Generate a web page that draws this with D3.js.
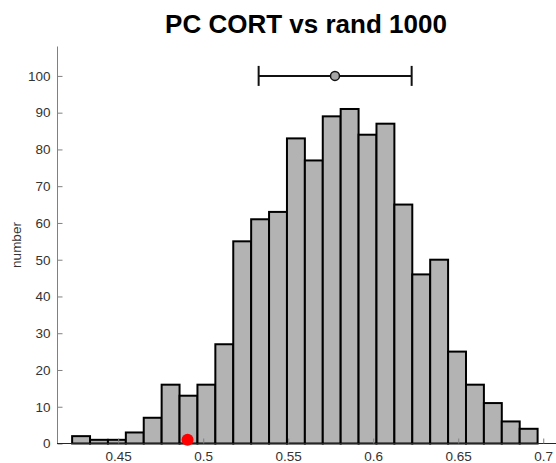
<!DOCTYPE html>
<html>
<head>
<meta charset="utf-8">
<script src="https://cdn.jsdelivr.net/npm/d3@7"></script>
<style>
  body { margin: 0; background: #fff; }
  svg { display: block; font-family: "Liberation Sans", Arial, Helvetica, sans-serif; }
</style>
</head>
<body>
<svg id="chart" width="556" height="463"></svg>
<script>
// histogram of 1000 random draws
const binStart = 0.4229;
const binWidth = 0.01053;
const counts = [2, 1, 1, 3, 7, 16, 13, 16, 27, 55, 61, 63, 83, 77, 89, 91, 84, 87, 65, 46, 50, 25, 16, 11, 6, 4];
const xTicks = [0.45, 0.5, 0.55, 0.6, 0.65, 0.7];
const yTicks = [0, 10, 20, 30, 40, 50, 60, 70, 80, 90, 100];
// mean +/- interval drawn at the top
const errLevel = 100;
const errMean = 0.5775;
const errLow = 0.5326;
const errHigh = 0.6226;
// observed value
const observed = { x: 0.4908, y: 1 };

const svg = d3.select("#chart");
const margin = { left: 57, right: 0, top: 46.5, bottom: 19.5 };
const width = 556, height = 463;

const x = d3.scaleLinear().domain([0.414, 0.7075]).range([margin.left, width - margin.right]);
const y = d3.scaleLinear().domain([0, 108]).range([height - margin.bottom, margin.top]);

const bins = counts.map((c, i) => ({ x0: binStart + i * binWidth, x1: binStart + (i + 1) * binWidth, count: c }));

// bars
svg.append("g").selectAll("rect")
  .data(bins)
  .join("rect")
  .attr("x", d => x(d.x0))
  .attr("y", d => y(d.count))
  .attr("width", d => x(d.x1) - x(d.x0))
  .attr("height", d => y(0) - y(d.count))
  .attr("fill", "#b3b3b3")
  .attr("stroke", "#000")
  .attr("stroke-width", 2);

// y axis
const yAxis = svg.append("g")
  .attr("transform", `translate(${margin.left + 0.5},0)`)
  .call(d3.axisRight(y).tickValues(yTicks).tickSize(5).tickFormat(d3.format("d")));
yAxis.attr("font-size", null);
yAxis.select(".domain").attr("stroke", "#808080").attr("d", `M0,${margin.top}V${y(0)}`);
yAxis.selectAll(".tick line").attr("stroke", "#808080");
yAxis.selectAll(".tick text")
  .attr("x", -7)
  .attr("text-anchor", "end")
  .attr("fill", "#333")
  .style("font-size", "13.5px");

// x axis
const xAxis = svg.append("g")
  .attr("transform", `translate(0,${y(0)})`)
  .call(d3.axisTop(x).tickValues(xTicks).tickSize(5).tickFormat(d => String(d)));
xAxis.attr("font-size", null);
xAxis.select(".domain").attr("stroke", "#262626").attr("d", `M${margin.left},0H${width}`);
xAxis.selectAll(".tick line").attr("stroke", "#808080");
xAxis.selectAll(".tick text")
  .attr("y", 17)
  .attr("fill", "#333")
  .style("font-size", "13.5px");

// error bar
const eg = svg.append("g").attr("stroke", "#111").attr("stroke-width", 2);
eg.append("line").attr("x1", x(errLow)).attr("x2", x(errHigh)).attr("y1", y(errLevel)).attr("y2", y(errLevel));
eg.selectAll("line.cap").data([errLow, errHigh]).join("line").attr("class", "cap")
  .attr("x1", d => x(d)).attr("x2", d => x(d))
  .attr("y1", y(errLevel) - 10).attr("y2", y(errLevel) + 10);
eg.append("circle").attr("cx", x(errMean)).attr("cy", y(errLevel)).attr("r", 4.5)
  .attr("fill", "#a6a6a6").attr("stroke-width", 1.5);

// observed point
svg.append("circle")
  .attr("cx", x(observed.x))
  .attr("cy", y(observed.y))
  .attr("r", 6)
  .attr("fill", "#ff0000");

// title
svg.append("text")
  .attr("x", 306)
  .attr("y", 33)
  .attr("text-anchor", "middle")
  .style("font-size", "26px")
  .style("font-weight", "bold")
  .attr("fill", "#000")
  .text("PC CORT vs rand 1000");

// y label
svg.append("text")
  .attr("transform", `translate(21,${(margin.top + y(0)) / 2}) rotate(-90)`)
  .attr("text-anchor", "middle")
  .style("font-size", "13.5px")
  .attr("fill", "#333")
  .text("number");
</script>
</body>
</html>
